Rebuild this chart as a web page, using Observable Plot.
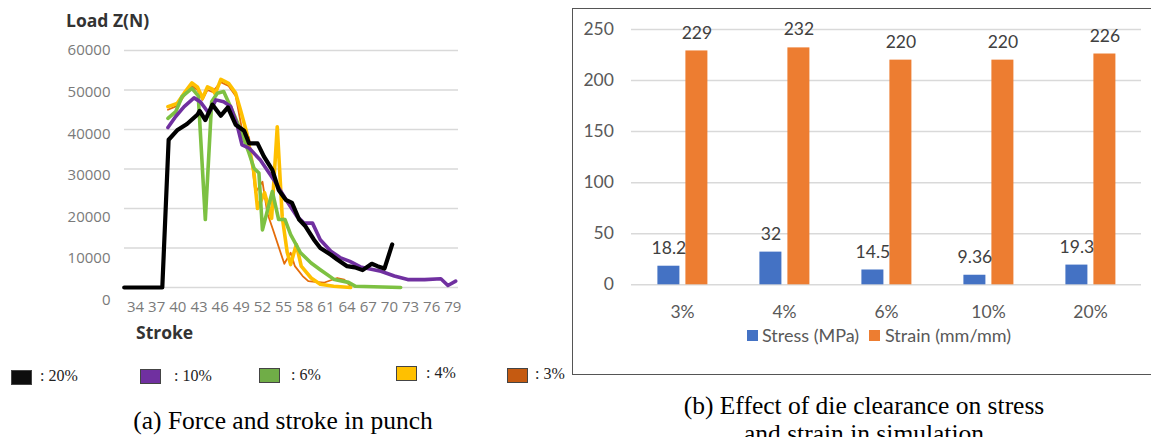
<!DOCTYPE html>
<html><head><meta charset="utf-8">
<script src="https://cdn.jsdelivr.net/npm/d3@7"></script>
<script src="https://cdn.jsdelivr.net/npm/@observablehq/plot@0.6"></script>
<style>
body{margin:0;background:#fff;width:1151px;height:437px;overflow:hidden;position:relative;}
.abs{position:absolute;white-space:nowrap;}
.ttl{font-family:"Open Sans",sans-serif;font-weight:700;color:#333;font-size:17.5px;line-height:20px;}
.cap{font-family:"Liberation Serif","Times New Roman",serif;font-size:25.5px;line-height:26px;color:#000;}
.lg{font-family:"Liberation Serif",serif;font-size:16px;line-height:18px;color:#222;}
.sw{width:21px;height:15px;border:1px solid #444;box-sizing:border-box;}
.lgb{font-family:Lato,sans-serif;font-size:18px;line-height:20px;color:#595959;}
.swb{width:11px;height:11px;}
</style></head><body>
<div id="left" class="abs" style="left:0;top:0"></div>
<div id="right" class="abs" style="left:560px;top:0"></div>
<div class="abs" style="left:572px;top:8px;width:620px;height:367px;border:1.5px solid #555;border-right:none;box-sizing:border-box;"></div>

<div class="abs ttl" style="left:66px;top:10px;">Load Z(N)</div>
<div class="abs ttl" style="left:136px;top:322px;">Stroke</div>

<div class="abs sw" style="left:11px;top:370px;background:#0d0d0d"></div><div class="abs lg" style="left:40px;top:367px;">: 20%</div>
<div class="abs sw" style="left:140px;top:369px;background:#7030A0"></div><div class="abs lg" style="left:174px;top:367px;">: 10%</div>
<div class="abs sw" style="left:259px;top:368px;background:#70AD47"></div><div class="abs lg" style="left:291px;top:366px;">: 6%</div>
<div class="abs sw" style="left:396px;top:366px;background:#FFC000"></div><div class="abs lg" style="left:426px;top:364px;">: 4%</div>
<div class="abs sw" style="left:507px;top:368px;background:#C55A11"></div><div class="abs lg" style="left:535px;top:365px;">: 3%</div>

<div class="abs cap" style="left:0;width:566px;text-align:center;top:408px;">(a) Force and stroke in punch</div>
<div class="abs cap" style="left:564px;width:600px;text-align:center;top:393px;">(b) Effect of die clearance on stress</div>
<div class="abs cap" style="left:564px;width:600px;text-align:center;top:421px;">and strain in simulation</div>

<div class="abs swb" style="left:747px;top:330px;background:#4472C4"></div><div class="abs lgb" style="left:762px;top:325px;">Stress (MPa)</div>
<div class="abs swb" style="left:869px;top:330px;background:#ED7D31"></div><div class="abs lgb" style="left:885px;top:325px;">Strain (mm/mm)</div>

<script>
// ---------- (a) Force vs stroke ----------
const strokeTicks = [34,37,40,43,46,49,52,55,58,61,64,67,70,73,76,79];
const loadTicks = [0,10000,20000,30000,40000,50000,60000];

const stroke20 = [32.4,37.8,38.7,39.9,41.3,42.8,43.1,43.9,44.9,46.1,47.1,48.2,49.4,50.1,51.3,52.2,53.4,54.3,55.3,56.2,57.2,58.1,59.3,60.2,61.7,62.6,64.0,65.1,66.2,67.5,68.3,69.3,70.4];
const load20   = [0,0,37400,39800,41400,43800,44700,42400,46300,43500,45600,41200,39700,36500,36500,33200,29800,24700,22200,21400,17200,15500,12100,10000,8300,7100,5400,5100,4400,6000,5400,4800,10900];

const stroke10 = [38.6,39.7,40.9,42.3,43.2,44.4,45.4,46.5,47.5,48.4,49.1,50.1,51.7,53.6,55.5,56.9,57.9,59.1,60.2,61.7,63.1,64.4,65.9,68.8,70.7,72.6,75.0,77.3,78.3,79.4];
const load10   = [40500,43300,45800,48000,47000,44100,47500,47000,45800,41200,36100,35300,32300,27300,21800,18000,16300,16300,12100,9200,7500,6600,5200,4100,2900,2000,2000,2200,500,1600];

const stroke6 = [38.6,39.7,40.6,42.0,42.9,43.9,44.8,45.6,46.5,47.7,48.9,50.1,50.8,51.5,52.0,53.4,54.3,55.2,56.0,57.4,58.9,60.2,62.2,64.2,65.2,71.6];
const load6   = [42800,44500,48300,50400,48500,17200,47000,49200,49600,44900,39900,34000,30200,29000,14600,24300,17200,17200,13400,8800,6200,4500,2000,1300,300,0];

const stroke4 = [38.6,39.9,40.9,42.0,42.8,43.5,44.2,44.9,45.3,46.1,47.2,48.2,48.9,49.8,50.8,51.3,52.3,53.3,54.1,54.8,55.5,56.0,56.8,57.5,58.9,60.2,62.1,64.5];
const load4   = [45800,46600,49200,51800,50700,47900,50800,50200,49000,52700,51700,49200,44900,39000,29000,20000,24000,17500,40700,18000,9000,5800,10900,5400,2400,800,300,0];

const stroke3 = [38.6,39.9,40.9,42.0,42.8,43.5,44.2,44.9,46.1,47.2,48.2,49.1,50.1,51.0,52.0,52.7,53.5,55.1,56.0,56.6,57.7,58.5,60.7,62.6,63.6,64.5];
const load3   = [45000,46000,48500,51000,50000,47500,50000,49500,52000,51000,48500,40000,38000,24000,26800,18800,14600,6000,8800,5400,2900,1600,1200,2400,2000,300];

const pts = (xs, ys) => xs.map((s, i) => ({stroke: s, load: ys[i]}));

const left = Plot.plot({
  width: 470, height: 345,
  marginTop: 50, marginBottom: 58, marginLeft: 124, marginRight: 12,
  style: {fontFamily: "Open Sans, sans-serif", fontSize: "15px", color: "#7a7a7a", background: "transparent"},
  x: {domain: [32.44, 79.8], label: null},
  y: {domain: [0, 60000], label: null},
  marks: [
    Plot.gridY(loadTicks, {stroke: "#d9d9d9", strokeOpacity: 1, strokeWidth: 1.4}),
    Plot.line(pts(stroke3, load3), {x: "stroke", y: "load", stroke: "#E46C0A", strokeWidth: 1.8, strokeLinejoin: "round"}),
    Plot.line(pts(stroke4, load4), {x: "stroke", y: "load", stroke: "#FFC000", strokeWidth: 3.6, strokeLinejoin: "round"}),
    Plot.line(pts(stroke6, load6), {x: "stroke", y: "load", stroke: "#7DC142", strokeWidth: 3.6, strokeLinejoin: "round"}),
    Plot.line(pts(stroke10, load10), {x: "stroke", y: "load", stroke: "#7030A0", strokeWidth: 3.6, strokeLinejoin: "round"}),
    Plot.line(pts(stroke20, load20), {x: "stroke", y: "load", stroke: "#000000", strokeWidth: 4.2, strokeLinejoin: "round"}),
    ...loadTicks.map(v => Plot.axisY([v], {tickSize: 0, tickPadding: 14, tickFormat: d => String(d), dy: 12.7 * (1 - v / 60000), label: null})),
    Plot.axisX(strokeTicks, {tickSize: 0, tickPadding: 14, tickFormat: d => String(d), label: null})
  ]
});
document.getElementById("left").appendChild(left);

// ---------- (b) Die clearance ----------
const clearances = ["3%", "4%", "6%", "10%", "20%"];
const stressMPa = [18.2, 32, 14.5, 9.36, 19.3];
const strainVals = [229, 232, 220, 220, 226];
const seriesNames = ["Stress (MPa)", "Strain (mm/mm)"];
const seriesColors = ["#4472C4", "#ED7D31"];
const valueTicks = [0, 50, 100, 150, 200, 250];

const rows = clearances.flatMap((c, i) => [
  {cat: c, series: seriesNames[0], value: stressMPa[i]},
  {cat: c, series: seriesNames[1], value: strainVals[i]}
]);

const right = Plot.plot({
  width: 591, height: 345,
  marginTop: 29, marginBottom: 60.7, marginLeft: 70.6, marginRight: 9.3,
  style: {fontFamily: "Lato, sans-serif", fontSize: "17.5px", color: "#595959", background: "transparent"},
  fx: {domain: clearances, padding: 0, label: null},
  x: {domain: seriesNames, paddingInner: 0.21, paddingOuter: 0.9, axis: null},
  y: {domain: [0, 250], label: null},
  color: {domain: seriesNames, range: seriesColors},
  marks: [
    Plot.gridY(valueTicks, {stroke: "#d9d9d9", strokeOpacity: 1, strokeWidth: 1.5}),
    Plot.barY(rows, {fx: "cat", x: "series", y: "value", fill: "series"}),
    Plot.text(rows, {fx: "cat", x: "series", y: "value", text: d => String(d.value), dy: -18, fill: "#404040", fontSize: 17.5}),
    Plot.axisY(valueTicks, {tickSize: 0, tickPadding: 17.6, label: null}),
    Plot.axisFx({anchor: "bottom", tickSize: 0, tickPadding: 21, label: null})
  ]
});
document.getElementById("right").appendChild(right);
</script>
</body></html>
